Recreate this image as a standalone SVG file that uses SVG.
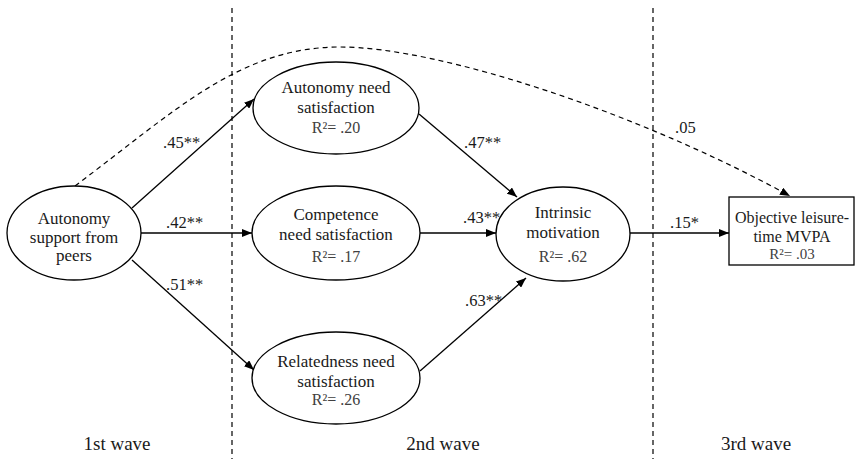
<svg xmlns="http://www.w3.org/2000/svg" width="856" height="459" viewBox="0 0 856 459">
<defs>
<style>
text{font-family:"Liberation Serif","Times New Roman",serif;fill:#1a1a1a;text-anchor:middle}
.n{font-size:17px}
.b{font-size:16px}
.r{font-size:16px;fill:#404040}
.rb{font-size:15px;fill:#404040}
.l{font-size:16.5px;text-anchor:start}
.w{font-size:19px}
.shape{fill:#fff;stroke:#000;stroke-width:1.3}
.c{fill:none;stroke:#000;stroke-width:1.3}
.d{fill:none;stroke:#000;stroke-width:1.2;stroke-dasharray:5 4}
</style>
<marker id="ah" markerUnits="userSpaceOnUse" markerWidth="10" markerHeight="8" refX="10" refY="4" orient="auto">
<path d="M0,0 L10,4 L0,8 z" fill="#000"/>
</marker>
</defs>
<rect width="856" height="459" fill="#fff"/>
<g id="dividers">
<line class="d" x1="232" y1="8" x2="232" y2="459"/>
<line class="d" x1="653" y1="8" x2="653" y2="459"/>
</g>
<g id="connectors">
<path class="d" d="M75,186 C175,111 240,47 340,47 C440,47 640,113.5 790,196" marker-end="url(#ah)"/>
<line class="c" x1="132" y1="208" x2="254" y2="99" marker-end="url(#ah)"/>
<line class="c" x1="141" y1="233" x2="252" y2="233" marker-end="url(#ah)"/>
<line class="c" x1="132" y1="260" x2="254" y2="370" marker-end="url(#ah)"/>
<line class="c" x1="419" y1="114" x2="517" y2="197" marker-end="url(#ah)"/>
<line class="c" x1="420" y1="233" x2="496" y2="233" marker-end="url(#ah)"/>
<line class="c" x1="420" y1="371" x2="526" y2="278" marker-end="url(#ah)"/>
<line class="c" x1="630" y1="233" x2="729" y2="233" marker-end="url(#ah)"/>
<text class="l" x="163" y="148">.45**</text>
<text class="l" x="166" y="228">.42**</text>
<text class="l" x="166" y="290">.51**</text>
<text class="l" x="464" y="148">.47**</text>
<text class="l" x="463" y="223">.43**</text>
<text class="l" x="465" y="306">.63**</text>
<text class="l" x="670" y="228">.15*</text>
<text class="l" x="675" y="133">.05</text>
</g>
<g id="autonomy-support">
<ellipse class="shape" cx="74" cy="233" rx="67" ry="47"/>
<text class="n" x="74" y="224">Autonomy</text>
<text class="n" x="74" y="243">support from</text>
<text class="n" x="74" y="261">peers</text>
</g>
<g id="autonomy-need">
<ellipse class="shape" cx="336" cy="108" rx="83" ry="46"/>
<text class="n" x="336" y="93">Autonomy need</text>
<text class="n" x="336" y="113">satisfaction</text>
<text class="r" x="336" y="133">R²= .20</text>
</g>
<g id="competence-need">
<ellipse class="shape" cx="336" cy="233" rx="84" ry="47"/>
<text class="n" x="336" y="220">Competence</text>
<text class="n" x="336" y="240">need satisfaction</text>
<text class="r" x="336" y="262">R²= .17</text>
</g>
<g id="relatedness-need">
<ellipse class="shape" cx="336" cy="378" rx="84" ry="46"/>
<text class="n" x="336" y="367">Relatedness need</text>
<text class="n" x="336" y="387">satisfaction</text>
<text class="r" x="336" y="405">R²= .26</text>
</g>
<g id="intrinsic-motivation">
<ellipse class="shape" cx="563" cy="234" rx="67" ry="47"/>
<text class="n" x="563" y="218">Intrinsic</text>
<text class="n" x="563" y="238">motivation</text>
<text class="r" x="563" y="262">R²= .62</text>
</g>
<g id="mvpa">
<rect class="shape" x="729" y="197" width="125" height="68"/>
<text class="b" x="792" y="223">Objective leisure-</text>
<text class="b" x="792" y="242">time MVPA</text>
<text class="rb" x="792" y="259">R²= .03</text>
</g>
<g id="wave-labels">
<text class="w" x="117" y="450">1st wave</text>
<text class="w" x="443" y="450">2nd wave</text>
<text class="w" x="756" y="450">3rd wave</text>
</g>
</svg>
